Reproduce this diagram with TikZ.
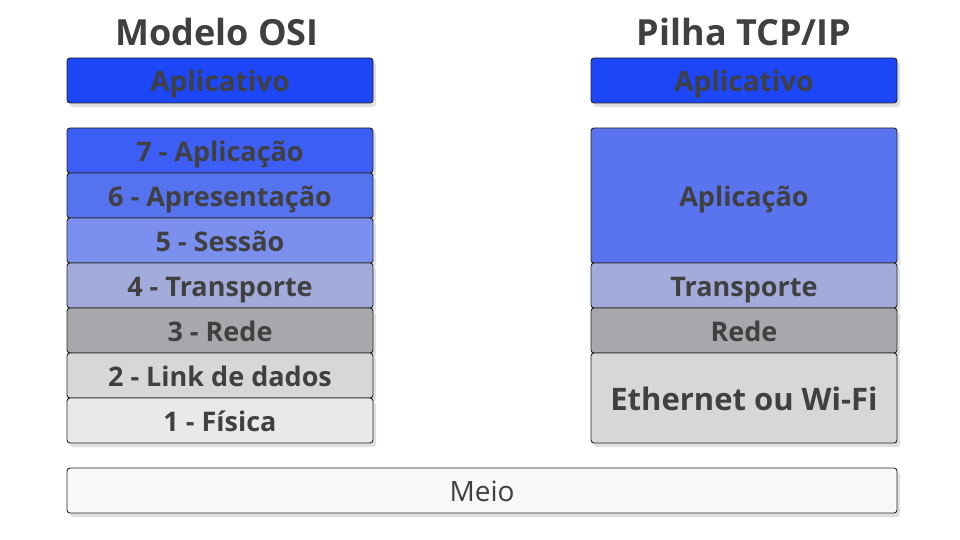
\documentclass[tikz,border=0pt]{standalone}
\usepackage{fontspec}
\setmainfont{Open Sans}
\usetikzlibrary{shadows}
\definecolor{txt}{HTML}{404040}
\definecolor{cApv}{HTML}{1C46F6}
\definecolor{c7}{HTML}{3D5EF5}
\definecolor{c6}{HTML}{5673EF}
\definecolor{c5}{HTML}{7B8FEE}
\definecolor{c4}{HTML}{A3ABDB}
\definecolor{c3}{HTML}{A7A8AB}
\definecolor{c2}{HTML}{D7D7D7}
\definecolor{c1}{HTML}{E9E9E9}
\definecolor{cAp}{HTML}{5A73EE}
\definecolor{cMeio}{HTML}{F8F8F8}
\tikzset{
  layer/.style={draw=black!85, line width=0.9pt, rounded corners=3pt,
    drop shadow={opacity=0.25, shadow xshift=3pt, shadow yshift=-4pt},
    text=txt, font=\bfseries\fontsize{27}{30}\selectfont, inner sep=0pt,
    text height=28pt, text depth=6pt},
  title/.style={text=txt, font=\bfseries\fontsize{36}{40}\selectfont, inner sep=0pt}
}
\begin{document}
\begin{tikzpicture}[x=1pt,y=-1pt]
\useasboundingbox (0,0) rectangle (960,540);
% titles
\node[title] (t1) at (217,32) {Modelo OSI};
\node[title] (t2) at (744,32) {Pilha TCP/IP};
% OSI
\node[layer, fill=cApv, font=\bfseries\fontsize{28}{30}\selectfont] (la) at (220,80.5) [minimum width=306pt, minimum height=45pt] {Aplicativo};
\node[layer, fill=c7] (l7) at (220,150.5) [minimum width=306pt, minimum height=45pt] {7 - Aplicação};
\node[layer, fill=c6] (l6) at (220,195.5) [minimum width=306pt, minimum height=45pt] {6 - Apresentação};
\node[layer, fill=c5] (l5) at (220,240.5) [minimum width=306pt, minimum height=45pt] {5 - Sessão};
\node[layer, fill=c4] (l4) at (220,285.5) [minimum width=306pt, minimum height=45pt] {4 - Transporte};
\node[layer, fill=c3] (l3) at (220,330.5) [minimum width=306pt, minimum height=45pt] {3 - Rede};
\node[layer, fill=c2] (l2) at (220,375.5) [minimum width=306pt, minimum height=45pt] {2 - Link de dados};
\node[layer, fill=c1] (l1) at (220,420.5) [minimum width=306pt, minimum height=45pt] {1 - Física};
% TCP/IP
\node[layer, fill=cApv, font=\bfseries\fontsize{28}{30}\selectfont] (ra) at (744,80.5) [minimum width=306pt, minimum height=45pt] {Aplicativo};
\node[layer, fill=cAp] (rap) at (744,195.5) [minimum width=306pt, minimum height=135pt] {Aplicação};
\node[layer, fill=c4] (rt) at (744,285.5) [minimum width=306pt, minimum height=45pt] {Transporte};
\node[layer, fill=c3] (rr) at (744,330.5) [minimum width=306pt, minimum height=45pt] {Rede};
\node[layer, fill=c2, font=\bfseries\fontsize{31}{34}\selectfont, text height=31pt, text depth=7pt] (re) at (744,398) [minimum width=306pt, minimum height=90pt] {Ethernet ou Wi-Fi};
% Meio
\node[layer, fill=cMeio, font=\fontsize{28}{30}\selectfont] (meio) at (482,490.5) [minimum width=830pt, minimum height=45pt] {Meio};
\end{tikzpicture}
\end{document}
